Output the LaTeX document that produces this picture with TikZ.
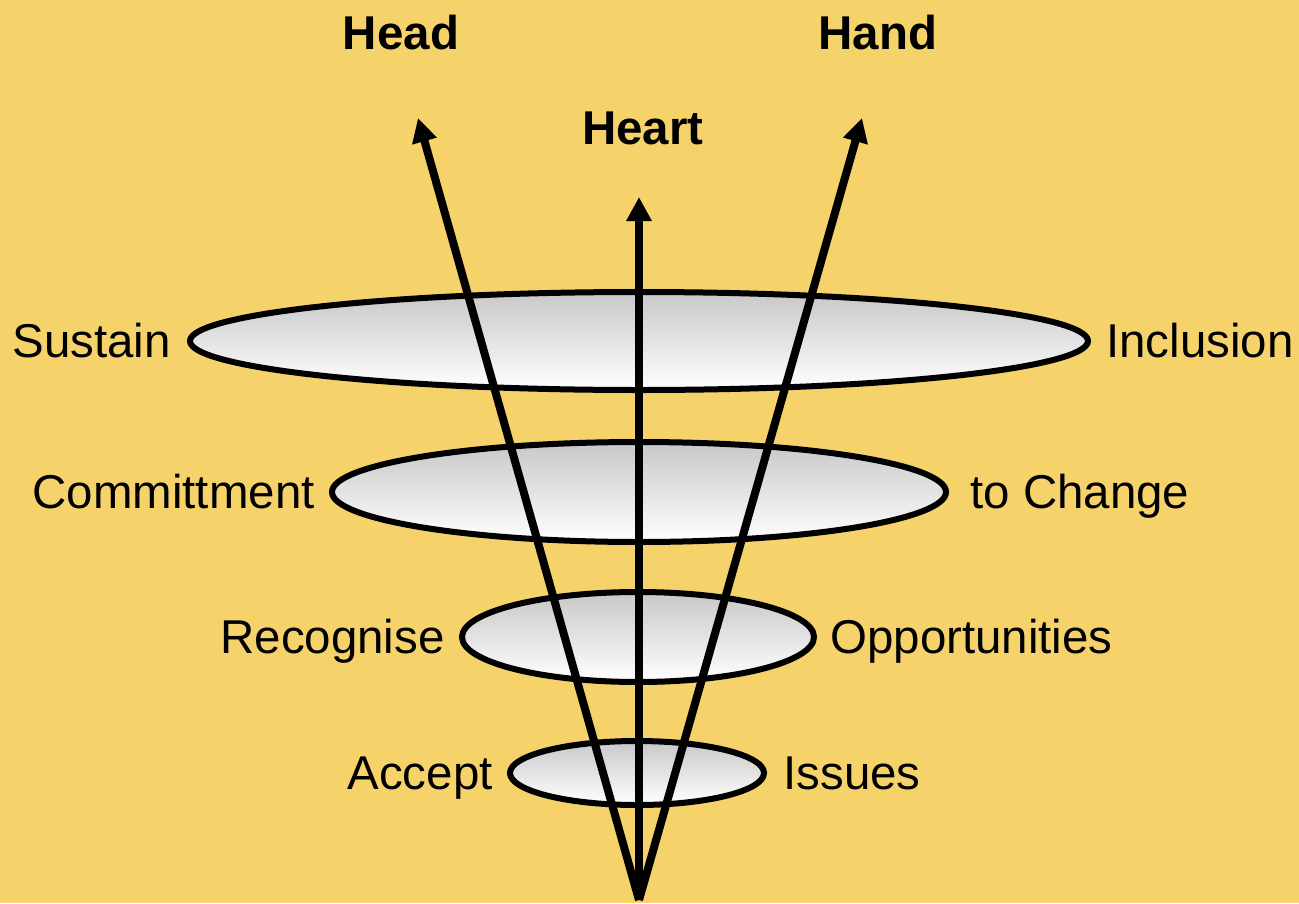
\documentclass[tikz,border=0pt]{standalone}
\usepackage{fontspec}
\setmainfont{Liberation Sans}
\usetikzlibrary{positioning,arrows.meta,shapes.geometric}
\definecolor{fondo}{RGB}{245,210,106}
\definecolor{grisclaro}{RGB}{200,200,200}

\begin{document}
\begin{tikzpicture}[x=0.2mm,y=-0.2mm,font=\fontsize{27}{32}\selectfont,
  anillo/.style={ellipse,draw,line width=1.2mm,top color=grisclaro,bottom color=white,inner sep=0pt},
  flecha/.style={line width=1.6mm,-{Triangle[length=4.8mm,width=4.8mm]}},
  etiqueta/.style={inner sep=0pt,text height=19.3pt,text depth=0pt},
  titulo/.style={font=\fontsize{27}{32}\selectfont\bfseries}]
  \fill[fondo] (0,0) rectangle (1299,903);
  \useasboundingbox (0,0) rectangle (1299,903);
  % anillos
  \node[anillo,minimum width=179.6mm,minimum height=19.6mm] (r1) at (639,341) {};
  \node[anillo,minimum width=122.8mm,minimum height=20mm] (r2) at (639,492) {};
  \node[anillo,minimum width=70.4mm,minimum height=18mm] (r3) at (638,637) {};
  \node[anillo,minimum width=50.8mm,minimum height=12.8mm] (r4) at (637,773) {};
  % flechas
  \coordinate (base) at (639,900);
  \coordinate (pHead) at (418,118);
  \coordinate (pHeart) at (639,197);
  \coordinate (pHand) at (862,118);
  \draw[flecha] (base) -- (pHead);
  \draw[flecha] (base) -- (pHeart);
  \draw[flecha] (base) -- (pHand);
  % titulos
  \node[titulo] (head) at (401,33) {Head};
  \node[titulo] (hand) at (878,33) {Hand};
  \node[titulo] (heart) at (643,128) {Heart};
  % etiquetas
  \node[etiqueta,left=3.2mm of r1] (sustain) {Sustain};
  \node[etiqueta,right=3.0mm of r1] (inclusion) {Inclusion};
  \node[etiqueta,left=2.8mm of r2] (commit) {Committment};
  \node[etiqueta,right=4.2mm of r2] (change) {to Change};
  \node[etiqueta,left=2.8mm of r3] (recog) {Recognise};
  \node[etiqueta,right=2.6mm of r3] (opport) {Opportunities};
  \node[etiqueta,left=2.8mm of r4] (accept) {Accept};
  \node[etiqueta,right=3.2mm of r4] (issues) {Issues};
\end{tikzpicture}
\end{document}
